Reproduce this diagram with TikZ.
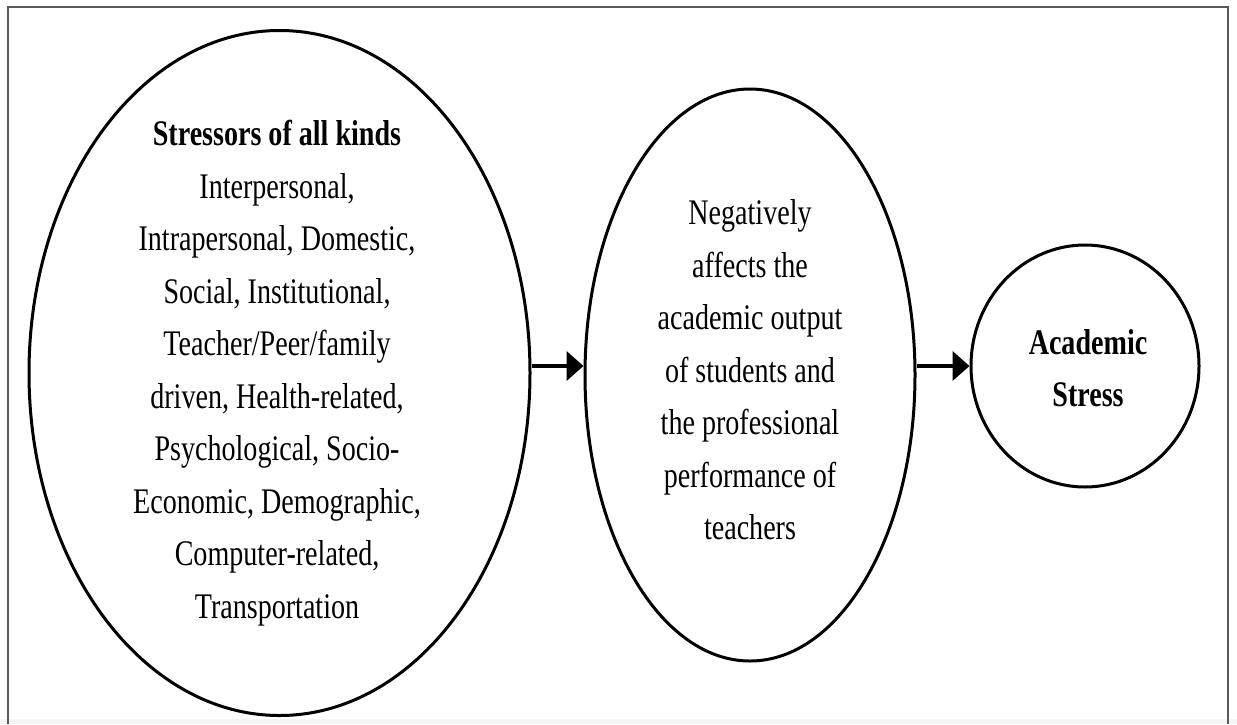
\documentclass[tikz,border=0pt]{standalone}
\usepackage{fontspec}
\setmainfont[FakeStretch=0.78]{Liberation Serif}
\usetikzlibrary{shapes.geometric,arrows.meta}
\begin{document}
\begin{tikzpicture}[x=0.5pt,y=-0.5pt,
  bubble/.style={draw=black, line width=1.5pt, ellipse, inner sep=0pt},
  caption/.style={align=center, font=\fontsize{18pt}{26.25pt}\selectfont, inner sep=0pt},
  flow/.style={-{Triangle[length=8.5pt,width=14.5pt]}, line width=2pt},
  frameline/.style={draw=black!65, line width=0.8pt}]
\useasboundingbox (0,0) rectangle (1237,724);
% outer frame, open along the lower edge
\fill[black!4] (0,719) rectangle (1237,724);
\draw[frameline] (8,724) -- (8,7) -- (1228,7) -- (1228,724);

% the three ovals
\node[bubble, minimum width=250.5pt, minimum height=342.5pt] (stressors) at (279.5,373) {};
\node[bubble, minimum width=165pt, minimum height=286pt] (effects) at (750,375) {};
\node[bubble, minimum width=114pt, minimum height=121pt] (stress) at (1085,366) {};

% their texts
\node[caption] (stressorstext) at (277,373) {\textbf{Stressors of all kinds}\\
  Interpersonal,\\
  Intrapersonal, Domestic,\\
  Social, Institutional,\\
  Teacher/Peer/family\\
  driven, Health-related,\\
  Psychological, Socio-\\
  Economic, Demographic,\\
  Computer-related,\\
  Transportation};
\node[caption] (effectstext) at (750,370) {Negatively\\
  affects the\\
  academic output\\
  of students and\\
  the professional\\
  performance of\\
  teachers};
\node[caption] (stresstext) at (1088,368) {\textbf{Academic}\\\textbf{Stress}};

% connectors
\draw[flow] (stressors.east |- stress.west) -- (effects.west |- stress.west);
\draw[flow] (effects.east |- stress.west) -- (stress.west);
\end{tikzpicture}
\end{document}
